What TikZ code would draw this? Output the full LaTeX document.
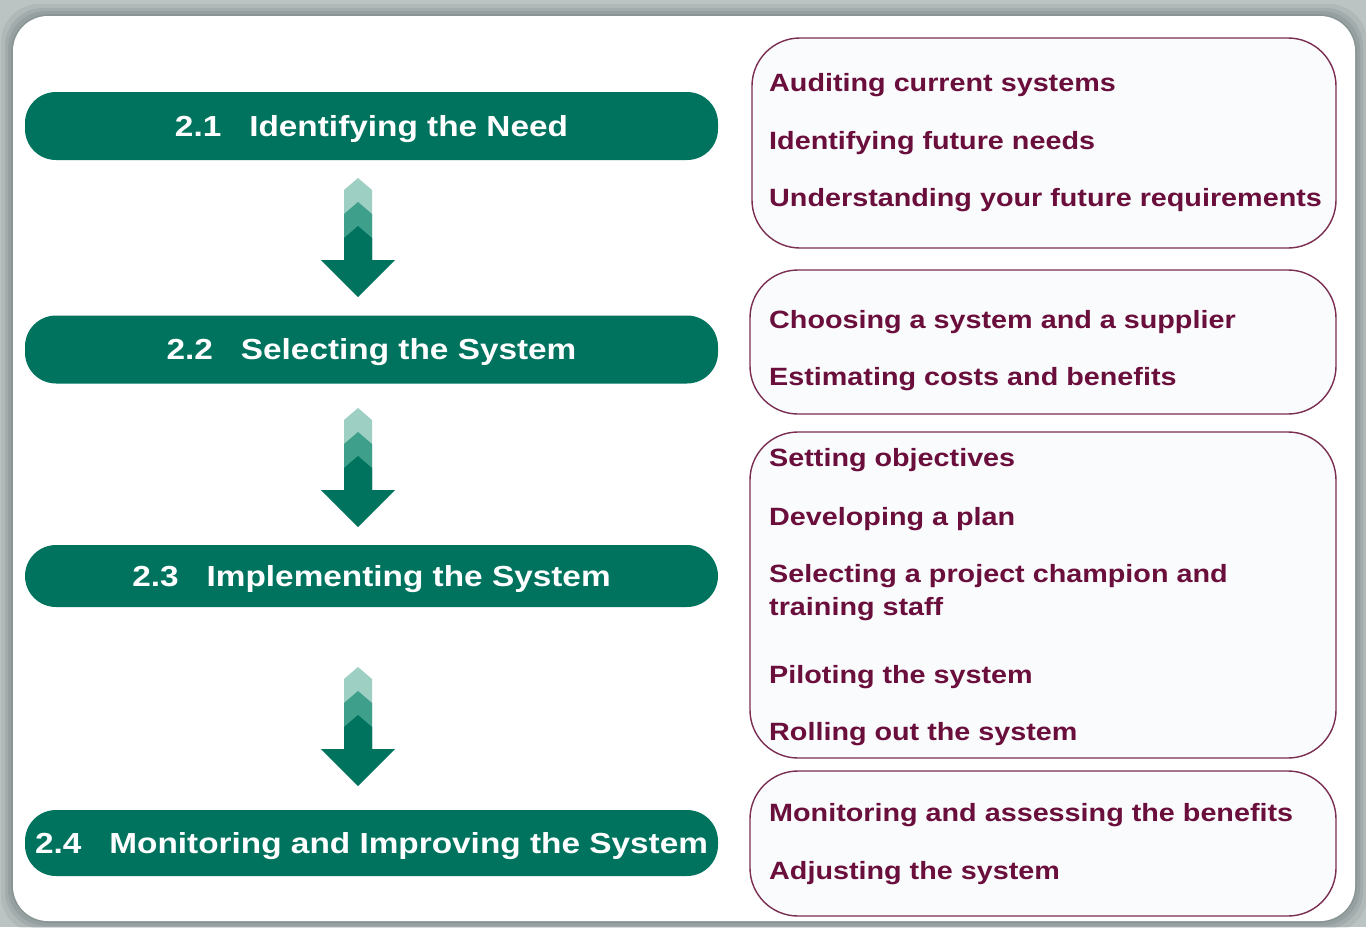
\documentclass[tikz,border=0pt]{standalone}
\usepackage{fontspec}
\setmainfont{Liberation Sans}[FakeStretch=1.15]
\usepackage{tikz}
\usetikzlibrary{calc}
\definecolor{framegray}{HTML}{BCC3C3}
\definecolor{shadowgray}{HTML}{5E6A6A}
\definecolor{stagegreen}{HTML}{00735F}
\definecolor{midgreen}{HTML}{3E9F8B}
\definecolor{palegreen}{HTML}{9DCFC3}
\definecolor{wine}{HTML}{7A2E52}
\definecolor{winetext}{HTML}{6A0E3C}
\definecolor{boxfill}{HTML}{FAFBFD}
\newcommand{\numgap}{\hspace{28pt}}
\tikzset{
  stage/.style={fill=stagegreen, rounded corners=31pt, minimum width=693pt,
    text=white, font=\fontsize{29}{34}\selectfont\bfseries,
    text height=20.8pt, text depth=0pt},
  task/.style={draw=wine, fill=boxfill, line width=1.4pt, rounded corners=48pt},
  item/.style={anchor=base west, inner sep=0pt, text=winetext, align=left,
    font=\fontsize{25}{33}\selectfont\bfseries},
  chev/.pic={
    \fill[palegreen] (0,0) -- (14,12) -- (14,84) -- (-14,84) -- (-14,12) -- cycle;
    \fill[midgreen] (0,24) -- (14,36) -- (14,84) -- (-14,84) -- (-14,36) -- cycle;
    \fill[stagegreen] (0,48) -- (14,60) -- (14,82) -- (37,82) -- (0,119)
      -- (-37,82) -- (-14,82) -- (-14,60) -- cycle;
  }
}

\begin{document}
\begin{tikzpicture}[x=1pt,y=-1pt]
  \useasboundingbox (0,0) rectangle (1366,927);
  % grey frame with a soft edge round the white panel
  \fill[framegray] (0,0) rectangle (1366,927);
  \foreach \d/\o in {12/0.12,8/0.15,5/0.18,2/0.22}
    \fill[shadowgray, opacity=\o, rounded corners=38pt]
      (13-\d,16-\d) rectangle (1355+\d,921+\d);
  \fill[white, rounded corners=35pt] (13,16) rectangle (1355,921);

  % stages
  \node[stage, minimum height=68pt] (S1) at (371.5,126) {2.1\numgap Identifying the Need};
  \node[stage, minimum height=68pt] (S2) at (371.5,349.5) {2.2\numgap Selecting the System};
  \node[stage, minimum height=62pt] (S3) at (371.5,576) {2.3\numgap Implementing the System};
  \node[stage, minimum height=66pt] (S4) at (371.5,843) {2.4\numgap Monitoring and Improving the System};

  \pic at (358,178) {chev};
  \pic at (358,408) {chev};
  \pic at (358,667) {chev};

  % tasks for each stage
  \node[task, minimum width=584pt, minimum height=210pt] (A) at (1044,143) {};
  \node[task, minimum width=586pt, minimum height=144pt] (B) at (1043,342) {};
  \node[task, minimum width=586pt, minimum height=326pt] (C) at (1043,595) {};
  \node[task, minimum width=586pt, minimum height=145pt] (D) at (1043,843.5) {};

  \node[item] (A1) at (769,91) {Auditing current systems};
  \node[item] (A2) at (769,149) {Identifying future needs};
  \node[item] (A3) at (769,206) {Understanding your future requirements};
  \node[item] (B1) at (769,328) {Choosing a system and a supplier};
  \node[item] (B2) at (769,385) {Estimating costs and benefits};
  \node[item] (C1) at (769,466) {Setting objectives};
  \node[item] (C2) at (769,525) {Developing a plan};
  \node[item] (C3) at (769,615) {Selecting a project champion and\\training staff};
  \node[item] (C4) at (769,683) {Piloting the system};
  \node[item] (C5) at (769,740) {Rolling out the system};
  \node[item] (D1) at (769,821) {Monitoring and assessing the benefits};
  \node[item] (D2) at (769,879) {Adjusting the system};
\end{tikzpicture}
\end{document}
